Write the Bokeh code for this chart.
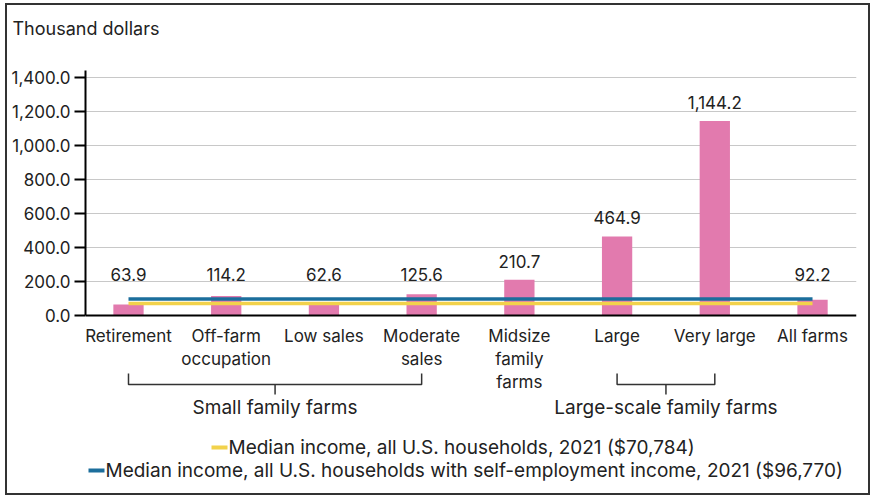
from bokeh.plotting import figure
from bokeh.models import Range1d, FixedTicker, NumeralTickFormatter, Span, Label
from bokeh.core.properties import value
from bokeh.embed import file_html
from bokeh.resources import INLINE

# ---- data ----
categories = ["Retirement", "Off-farm\noccupation", "Low sales", "Moderate\nsales",
              "Midsize\nfamily\nfarms", "Large", "Very large", "All farms"]
income = [63.9, 114.2, 62.6, 125.6, 210.7, 464.9, 1144.2, 92.2]
y_ticks = [0, 200, 400, 600, 800, 1000, 1200, 1400]
median_all = 70.784
median_self = 96.770
legend_labels = ["Median income, all U.S. households, 2021 ($70,784)",
                 "Median income, all U.S. households with self-employment income, 2021 ($96,770)"]
groups = ["Small family farms", "Large-scale family farms"]
group_members = [(0, 3), (5, 6)]
y_title = "Thousand dollars"

# ---- style ----
FONT = "Inter"
TXT = "#222222"
PINK = "#E27AAE"
YELLOW = "#F2D24B"
BLUE = "#1C6E9C"

FRAME_W, FRAME_H = 771, 415
X0, X1 = -0.44, 7.45
Y0, Y1 = -1000, 1441
xpp = (X1 - X0) / FRAME_W
upp = (Y1 - Y0) / FRAME_H

p = figure(frame_width=FRAME_W, frame_height=FRAME_H,
           x_range=Range1d(X0, X1), y_range=Range1d(Y0, Y1),
           output_backend="svg", toolbar_location=None,
           min_border_left=78, min_border_right=12, min_border_top=65, min_border_bottom=8,
           styles={"border": "2px solid #333333", "margin": "3px 0px 0px 5px"})
p.outline_line_color = None
p.xaxis.visible = False
p.xgrid.visible = False
p.title.text = ""

p.add_layout(Label(x=-73, y=42, x_units="screen", y_units="screen", text=y_title,
                   text_align="left", text_baseline="middle", text_font=FONT,
                   text_font_size="18px", text_color=TXT), "above")

ya = p.yaxis[0]
ya.ticker = FixedTicker(ticks=y_ticks)
ya.bounds = (0, Y1)
ya.formatter = NumeralTickFormatter(format="0,0.0")
ya.axis_line_color = "black"
ya.axis_line_width = 2
ya.major_tick_line_color = "black"
ya.major_tick_line_width = 2
ya.major_tick_out = 11
ya.major_tick_in = 0
ya.minor_tick_line_color = None
ya.major_label_text_font = FONT
ya.major_label_text_font_size = "17px"
ya.major_label_text_color = TXT
ya.major_label_standoff = 4
ya.axis_label_standoff = 0

p.ygrid.ticker = FixedTicker(ticks=y_ticks[1:])
p.ygrid.grid_line_color = "#c8c8c8"
p.ygrid.grid_line_width = 1

xs = list(range(len(categories)))

p.vbar(x=xs, top=income, bottom=0, width=0.31, fill_color=PINK, line_color=None)

p.add_layout(Span(location=0, dimension="width", line_color="black", line_width=2))

p.line([xs[0], xs[-1]], [median_all, median_all], line_color=YELLOW, line_width=3.5)
p.line([xs[0], xs[-1]], [median_self, median_self], line_color=BLUE, line_width=3.5)

# value labels
lab_y = [max(v, 135) + 18.5 * upp for v in income]
p.text(x=xs, y=lab_y, text=[f"{v:,.1f}" for v in income], text_align="center",
       text_baseline="alphabetic", text_font=value(FONT), text_font_size="17px", text_color=TXT)

# category labels
p.text(x=xs, y=[-10.5 * upp] * len(xs), text=categories, text_align="center", text_baseline="top",
       text_font=value(FONT), text_font_size="17px", text_color=TXT, text_line_height=1.15)

# group brackets
for (a, b), g in zip(group_members, groups):
    top_y, bar_y, stub_y = -58 * upp, -69 * upp, -79 * upp
    mid = (a + b) / 2
    p.multi_line(xs=[[a, a, b, b], [mid, mid]], ys=[[top_y, bar_y, bar_y, top_y], [bar_y, stub_y]],
                 line_color="#333333", line_width=1.5)
    p.text(x=[mid], y=[-92 * upp], text=[g], text_align="center", text_baseline="middle",
           text_font=value(FONT), text_font_size="19px", text_color=TXT)

# legend (pixel offsets from the frame's left edge and below the zero line)
leg_px = [(126, 132), (3, 155)]
for (lx, ly), lab, col in zip(leg_px, legend_labels, [YELLOW, BLUE]):
    x_start = X0 + lx * xpp
    yy = -ly * upp
    p.line([x_start, x_start + 16 * xpp], [yy, yy], line_color=col, line_width=4)
    p.text(x=[x_start + 17 * xpp], y=[yy], text=[lab], text_align="left", text_baseline="middle",
           text_font=value(FONT), text_font_size="19px", text_color=TXT)

open("out.html", "w").write(file_html(p, INLINE))
